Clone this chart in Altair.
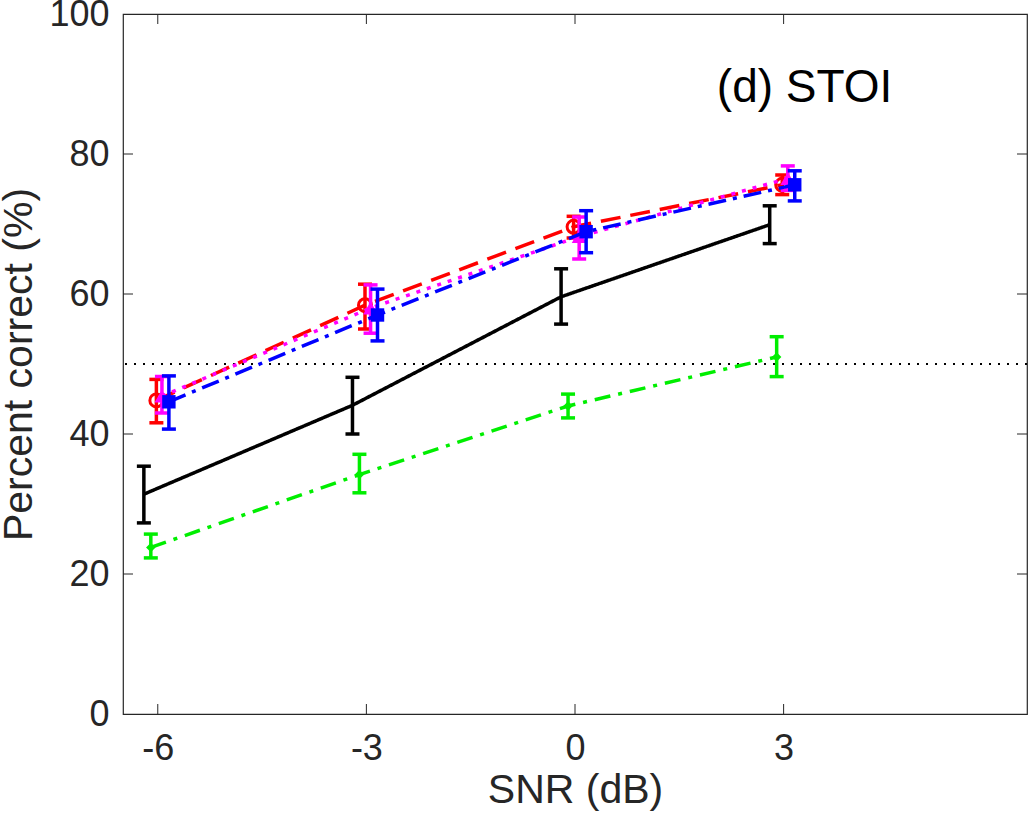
import altair as alt
import pandas as pd

# SNR conditions and tick values
snr_ticks = [-6, -3, 0, 3]
pct_ticks = [0, 20, 40, 60, 80, 100]
inner_pct_ticks = [20, 40, 60, 80]

# Per-series x positions (slightly staggered), means and error limits
black_x = [-6.2, -3.2, -0.2, 2.8]
black_mean = [31.4, 44.1, 59.6, 69.9]
black_lo = [27.3, 40.0, 55.7, 67.2]
black_hi = [35.4, 48.1, 63.6, 72.6]

green_x = [-6.1, -3.1, -0.1, 2.9]
green_mean = [23.8, 34.2, 44.0, 51.0]
green_lo = [22.3, 31.6, 42.3, 48.2]
green_hi = [25.7, 37.1, 45.7, 53.9]

red_x = [-6.02, -3.02, -0.02, 2.98]
red_mean = [44.8, 58.4, 69.6, 75.6]
red_lo = [41.6, 55.0, 68.0, 74.2]
red_hi = [47.8, 61.4, 71.1, 77.0]

magenta_x = [-5.94, -2.94, 0.06, 3.06]
magenta_mean = [45.4, 58.0, 68.2, 76.5]
magenta_lo = [43.0, 54.4, 65.0, 74.8]
magenta_hi = [48.2, 61.3, 71.0, 78.3]

blue_x = [-5.84, -2.84, 0.16, 3.16]
blue_mean = [44.6, 57.0, 68.9, 75.6]
blue_lo = [40.7, 53.3, 65.9, 73.3]
blue_hi = [48.3, 60.7, 71.9, 77.6]

chance_level = 50
panel_label = "(d) STOI"

FONT = "Liberation Sans, Arial, Helvetica, sans-serif"
AXIS_COLOR = "#262626"
W, H = 904, 700
LW = 3.5

xscale = alt.Scale(domain=[-6.5, 6.5], nice=False, zero=False)
yscale = alt.Scale(domain=[0, 100], nice=False, zero=False)


def series_layers(xs, mean, lo, hi, color, dash, shape=None, size=0, filled=True):
    df = pd.DataFrame({"x": xs, "m": mean, "lo": lo, "hi": hi})
    base = alt.Chart(df)
    line = base.mark_line(color=color, strokeWidth=LW, strokeDash=dash).encode(
        x=alt.X("x:Q", scale=xscale), y=alt.Y("m:Q", scale=yscale)
    )
    err = base.mark_rule(color=color, strokeWidth=LW).encode(
        x="x:Q", y="lo:Q", y2="hi:Q"
    )
    cap_lo = base.mark_tick(color=color, thickness=LW, size=14, orient="horizontal",
                            opacity=1).encode(x="x:Q", y="lo:Q")
    cap_hi = base.mark_tick(color=color, thickness=LW, size=14, orient="horizontal",
                            opacity=1).encode(x="x:Q", y="hi:Q")
    layers = [line, err, cap_lo, cap_hi]
    if shape is not None:
        if filled:
            pt = base.mark_point(shape=shape, size=size, filled=True, color=color, opacity=1)
        else:
            pt = base.mark_point(shape=shape, size=size, filled=False, color=color,
                                 strokeWidth=3, opacity=1)
        layers.append(pt.encode(x="x:Q", y="m:Q"))
    return layers


# Frame axes with labels only; tick marks are drawn inward below
axes_base = alt.Chart(pd.DataFrame({"x": [0], "y": [0]})).mark_point(opacity=0).encode(
    x=alt.X("x:Q", scale=xscale, title="SNR (dB)",
            axis=alt.Axis(values=snr_ticks, ticks=False, domain=False, grid=False,
                          labelExpr="'' + datum.value",
                          labelFont=FONT, labelFontSize=36, labelColor=AXIS_COLOR,
                          labelPadding=17, titleFont=FONT, titleFontSize=41,
                          titleFontWeight="normal", titleColor=AXIS_COLOR, titlePadding=4)),
    y=alt.Y("y:Q", scale=yscale, title="Percent correct (%)",
            axis=alt.Axis(values=pct_ticks, ticks=False, domain=False, grid=False,
                          labelExpr="'' + datum.value",
                          labelFont=FONT, labelFontSize=36, labelColor=AXIS_COLOR,
                          labelPadding=14, titleFont=FONT, titleFontSize=41,
                          titleFontWeight="normal", titleColor=AXIS_COLOR, titlePadding=8)),
)

xt = alt.Chart(pd.DataFrame({"v": snr_ticks}))
yt = alt.Chart(pd.DataFrame({"v": inner_pct_ticks}))
tick_style = dict(color=AXIS_COLOR, strokeWidth=1)
ticks = [
    xt.mark_rule(**tick_style).encode(x=alt.X("v:Q", scale=xscale), y=alt.value(H - 10), y2=alt.value(H)),
    xt.mark_rule(**tick_style).encode(x=alt.X("v:Q", scale=xscale), y=alt.value(0), y2=alt.value(10)),
    yt.mark_rule(**tick_style).encode(y=alt.Y("v:Q", scale=yscale), x=alt.value(0), x2=alt.value(10)),
    yt.mark_rule(**tick_style).encode(y=alt.Y("v:Q", scale=yscale), x=alt.value(W - 10), x2=alt.value(W)),
]

chance = alt.Chart(pd.DataFrame({"y": [chance_level]})).mark_rule(
    color="black", strokeWidth=1.8, strokeDash=[2, 7]
).encode(y=alt.Y("y:Q", scale=yscale))

label = alt.Chart(pd.DataFrame({"x": [2.04], "y": [89.4], "t": [panel_label]})).mark_text(
    font=FONT, fontSize=46, color="black", align="left", baseline="middle"
).encode(x=alt.X("x:Q", scale=xscale), y=alt.Y("y:Q", scale=yscale), text="t:N")

layers = [axes_base] + ticks + [chance]
layers += series_layers(black_x, black_mean, black_lo, black_hi, "#000000", [1, 0])
layers += series_layers(green_x, green_mean, green_lo, green_hi, "#00EE00", [16, 8, 4, 8],
                        shape="diamond", size=90)
layers += series_layers(red_x, red_mean, red_lo, red_hi, "#FF0000", [20, 10],
                        shape="circle", size=170, filled=False)
layers += series_layers(magenta_x, magenta_mean, magenta_lo, magenta_hi, "#FF00FF", [4, 7],
                        shape="triangle-up", size=220)
layers += series_layers(blue_x, blue_mean, blue_lo, blue_hi, "#0000FF", [18, 7, 4, 7],
                        shape="square", size=180)
layers.append(label)

chart = alt.layer(*layers).properties(
    width=W, height=H,
    autosize=alt.AutoSizeParams(type="none"),
    padding={"left": 123, "top": 14, "right": 3, "bottom": 109},
    background="white",
).configure_view(stroke=AXIS_COLOR, strokeWidth=1.2)

chart.save("out.html", embed_options={"renderer": "svg", "actions": False})
